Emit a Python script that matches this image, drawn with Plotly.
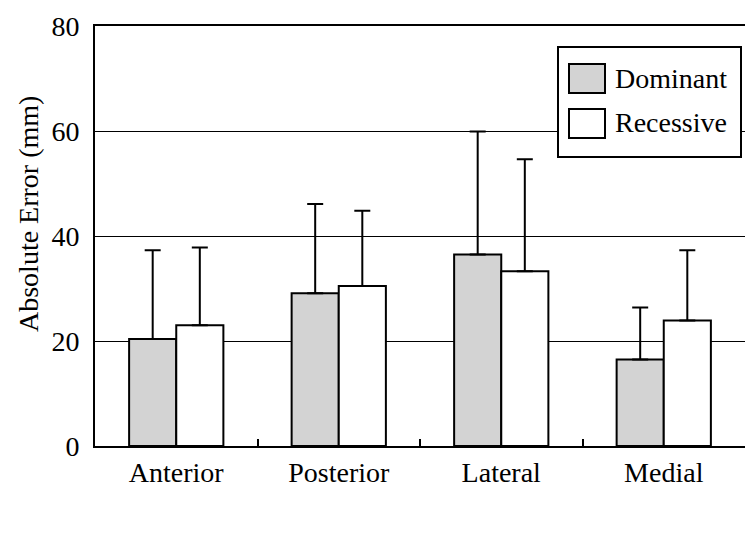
import plotly.graph_objects as go

categories = ["Anterior", "Posterior", "Lateral", "Medial"]
dominant = [20.4, 29.1, 36.5, 16.5]
dominant_sd = [16.9, 17.0, 23.4, 9.9]
recessive = [23.0, 30.5, 33.3, 23.9]
recessive_sd = [14.8, 14.3, 21.3, 13.4]
series_names = ["Dominant", "Recessive"]
y_ticks = [0, 20, 40, 60, 80]
y_title = "Absolute Error (mm)"

FONT = "Liberation Serif, Times New Roman, serif"
FS = 28

fig = go.Figure()
for name, vals, sd, color in [
    (series_names[0], dominant, dominant_sd, "#d3d3d3"),
    (series_names[1], recessive, recessive_sd, "#ffffff"),
]:
    fig.add_trace(go.Bar(
        x=categories, y=vals, name=name,
        marker=dict(color=color, line=dict(color="black", width=2)),
        error_y=dict(type="data", symmetric=False, array=sd,
                     arrayminus=[0] * len(sd), color="black",
                     thickness=2, width=8),
        showlegend=False,
    ))

# custom legend (box with large swatches)
W, L, R = 755, 95, 745
H, T, B = 536, 26, 446
def px(x):
    return (x - L) / (R - L)
def py(y):
    return (B - y) / (B - T)

shapes = [
    dict(type="rect", xref="paper", yref="paper", x0=px(558), x1=px(741),
         y0=py(157), y1=py(47), line=dict(color="black", width=2),
         fillcolor="white", layer="above"),
    dict(type="rect", xref="paper", yref="paper", x0=px(569), x1=px(605),
         y0=py(93), y1=py(64), line=dict(color="black", width=2),
         fillcolor="#d3d3d3", layer="above"),
    dict(type="rect", xref="paper", yref="paper", x0=px(569), x1=px(605),
         y0=py(138), y1=py(109), line=dict(color="black", width=2),
         fillcolor="white", layer="above"),
]
annotations = [
    dict(text=series_names[0], xref="paper", yref="paper", x=px(613), y=py(78),
         xanchor="left", yanchor="middle", showarrow=False,
         font=dict(family=FONT, size=FS, color="black")),
    dict(text=series_names[1], xref="paper", yref="paper", x=px(613), y=py(123),
         xanchor="left", yanchor="middle", showarrow=False,
         font=dict(family=FONT, size=FS, color="black")),
    dict(text=y_title, xref="paper", yref="paper", x=px(29), y=py(214),
         xanchor="center", yanchor="middle", textangle=-90, showarrow=False,
         font=dict(family=FONT, size=28, color="black")),
]

fig.update_layout(
    width=W, height=H,
    margin=dict(l=L, r=W - R, t=T, b=H - B, autoexpand=False),
    paper_bgcolor="white", plot_bgcolor="white",
    barmode="group", bargap=0.42, bargroupgap=0,
    font=dict(family=FONT, size=FS, color="black"),
    shapes=shapes, annotations=annotations,
    xaxis=dict(
        showline=True, linecolor="black", linewidth=2, mirror=True,
        ticks="inside", tickson="boundaries", ticklen=7, tickwidth=2,
        tickcolor="black", showgrid=False, ticklabelstandoff=0,
        tickfont=dict(family=FONT, size=FS, color="black"),
    ),
    yaxis=dict(
        range=[0, 80], tickvals=y_ticks, showline=True, linecolor="black",
        linewidth=2, ticks="", showgrid=True, gridcolor="black", gridwidth=1,
        zeroline=False, ticklabelstandoff=8,
        tickfont=dict(family=FONT, size=FS, color="black"),
    ),
)

fig.write_html("out.html", config={"displayModeBar": False},
               post_script="document.body.style.margin='0';")
